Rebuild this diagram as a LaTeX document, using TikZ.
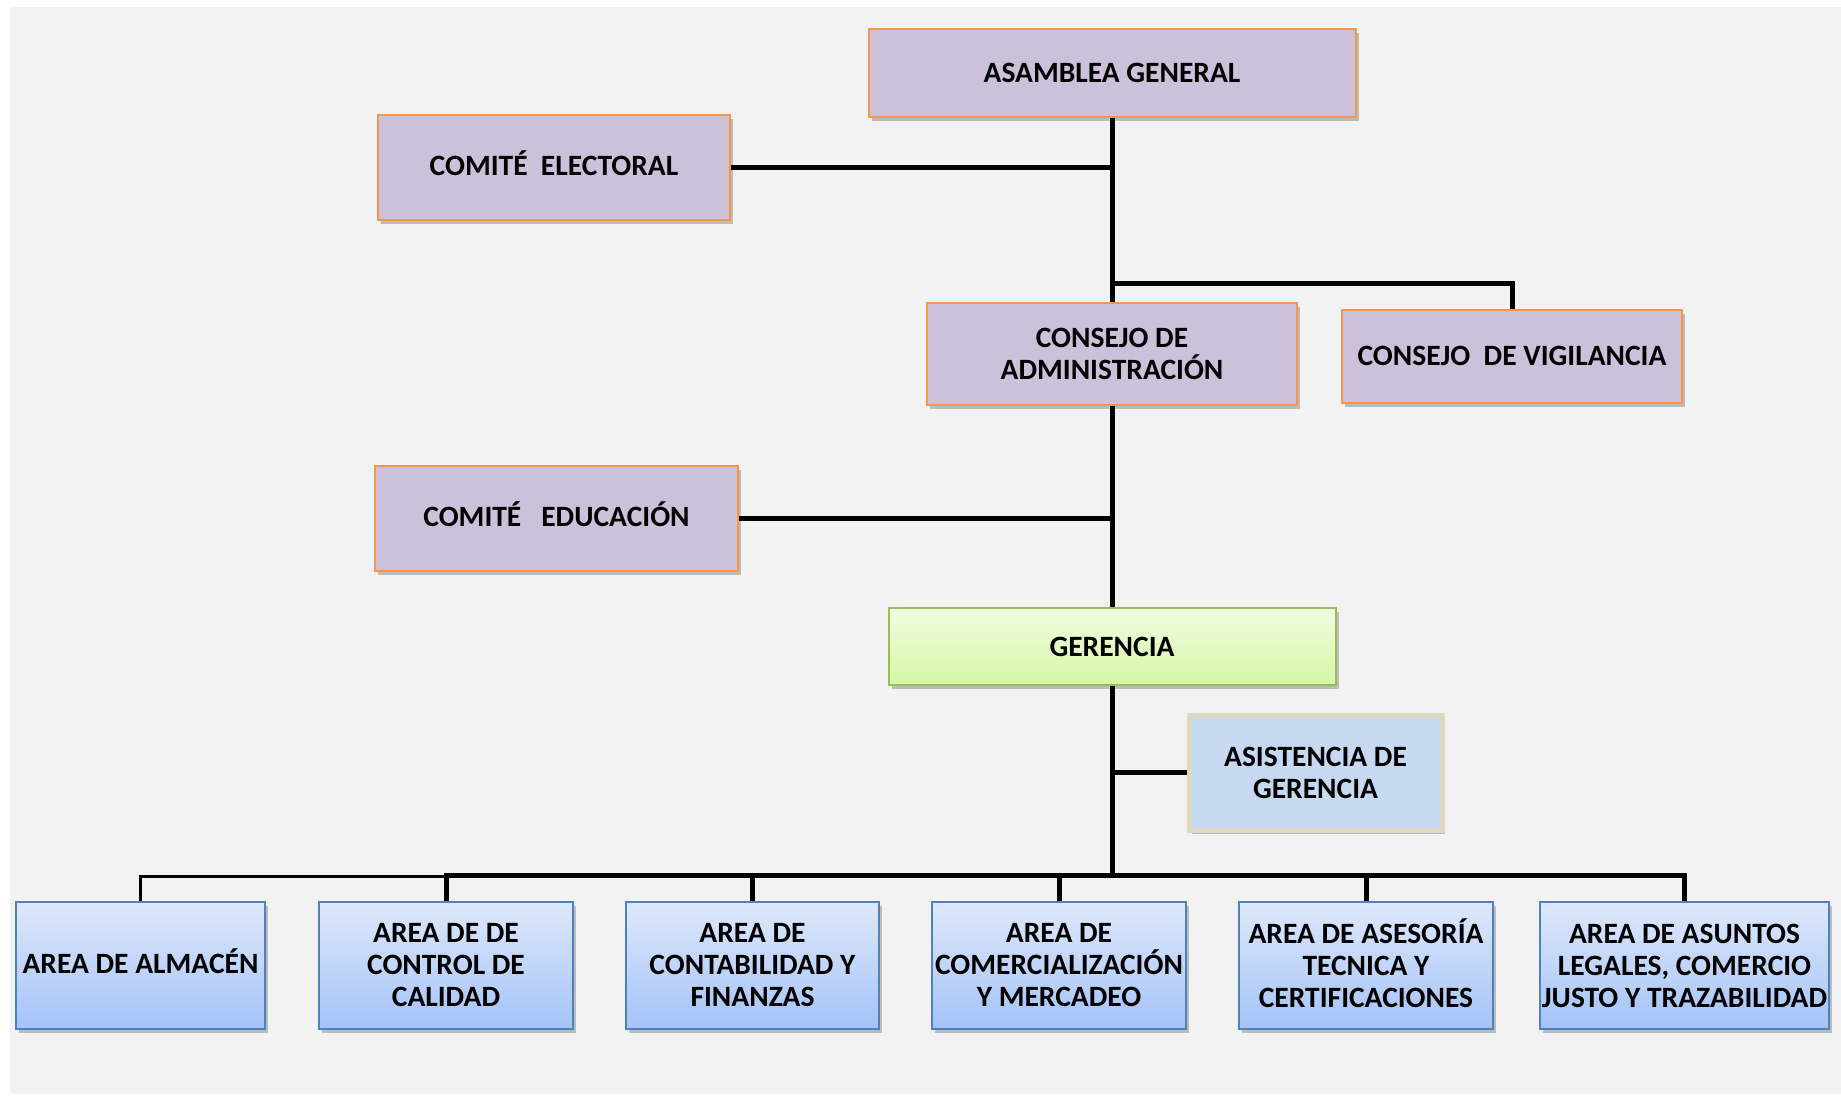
\documentclass[tikz,border=0pt]{standalone}
\usepackage{fontspec}
\setmainfont{Carlito}
\usetikzlibrary{shadows}
\definecolor{bgg}{HTML}{F2F2F2}
\definecolor{purp}{HTML}{CCC0DA}
\definecolor{orng}{HTML}{F79646}
\definecolor{grnb}{HTML}{9BBB59}
\definecolor{grnt}{HTML}{F0FCE2}
\definecolor{grnbot}{HTML}{D5F7A5}
\definecolor{blut}{HTML}{DEE8FB}
\definecolor{blub}{HTML}{A4C3F8}
\definecolor{blud}{HTML}{4F81BD}
\definecolor{asf}{HTML}{C6D9F0}
\definecolor{asb}{HTML}{DDD9C3}
\pgfdeclarelayer{bg}
\pgfdeclarelayer{lines}
\pgfsetlayers{bg,lines,main}
\tikzset{
  base/.style={rectangle, inner sep=0pt, align=center, text=black,
    font=\fontsize{29.5}{32}\selectfont\bfseries,
    drop shadow={shadow xshift=3pt, shadow yshift=-4pt, opacity=0.22, fill=black}},
  pbox/.style={base, fill=purp, draw=orng, line width=2pt},
  gbox/.style={base, top color=grnt, bottom color=grnbot, draw=grnb, line width=2pt},
  abox/.style={base, fill=asf, draw=asb, line width=5pt, drop shadow={opacity=0}},
  bbox/.style={base, top color=blut, bottom color=blub, draw=blud, line width=2pt,
    minimum width=254pt, minimum height=127pt},
  conn/.style={line width=5pt, black},
  thinconn/.style={line width=2.5pt, black},
}
\begin{document}
\begin{tikzpicture}[x=1pt,y=-1pt]
\useasboundingbox (0,0) rectangle (1841,1096);
\begin{pgfonlayer}{bg}
\fill[bgg] (10,7) rectangle (1841,1094);
\end{pgfonlayer}
\node[pbox, minimum width=487pt, minimum height=88pt] (asam) at (1112,73) {ASAMBLEA GENERAL};
\node[pbox, minimum width=352pt, minimum height=105pt] (elec) at (554,167.5) {\strut COMITÉ\ \ ELECTORAL};
\node[pbox, minimum width=370pt, minimum height=102pt] (admin) at (1112,354) {CONSEJO DE\\ADMINISTRACIÓN};
\node[pbox, minimum width=340pt, minimum height=93pt] (vigi) at (1512,356) {CONSEJO\ \ DE VIGILANCIA};
\node[pbox, minimum width=363pt, minimum height=105pt] (educ) at (556.5,518.5) {\strut COMITÉ\ \ \ EDUCACIÓN};
\node[gbox, minimum width=447pt, minimum height=77pt] (ger) at (1112,646.5) {GERENCIA};
\node[abox, minimum width=253pt, minimum height=115pt] (asis) at (1315.5,772.5) {ASISTENCIA DE\\GERENCIA};
\node[bbox, minimum width=249pt] (b1) at (140.5,965.5) {\strut AREA DE ALMACÉN};
\node[bbox] (b2) at (446,965.5) {AREA DE DE\\CONTROL DE\\CALIDAD};
\node[bbox, minimum width=253pt] (b3) at (752.5,965.5) {AREA DE\\CONTABILIDAD Y\\FINANZAS};
\node[bbox] (b4) at (1059,965.5) {AREA DE\\COMERCIALIZACIÓN\\Y MERCADEO};
\node[bbox, text depth=5pt] (b5) at (1366,965.5) {AREA DE ASESORÍA\\TECNICA Y\\CERTIFICACIONES};
\node[bbox, minimum width=289pt] (b6) at (1684.5,965.5) {AREA DE ASUNTOS\\LEGALES, COMERCIO\\JUSTO Y TRAZABILIDAD};
\coordinate (jv) at (1112,283);
\coordinate (bus) at (1112,875);
\begin{pgfonlayer}{lines}
\draw[conn] (asam.south) -- (admin.north);
\draw[conn] (elec.east) -- (elec.east -| asam.south);
\draw[conn, line join=miter] (jv) -| (vigi.north);
\draw[conn] (admin.south) -- (ger.north);
\draw[conn] (educ.east) -- (educ.east -| admin.south);
\draw[conn] (ger.south) -- (bus);
\draw[conn] (asis.west) -- (asis.west -| ger.south);
\draw[conn, line join=miter] (b2.north) |- (bus) -| (b6.north);
\draw[conn] (b3.north) -- (b3.north |- bus);
\draw[conn] (b4.north) -- (b4.north |- bus);
\draw[conn] (b5.north) -- (b5.north |- bus);
\draw[thinconn, line join=miter] (b1.north) |- ([yshift=-1.25pt]b2.north |- bus);
\end{pgfonlayer}
\end{tikzpicture}
\end{document}
